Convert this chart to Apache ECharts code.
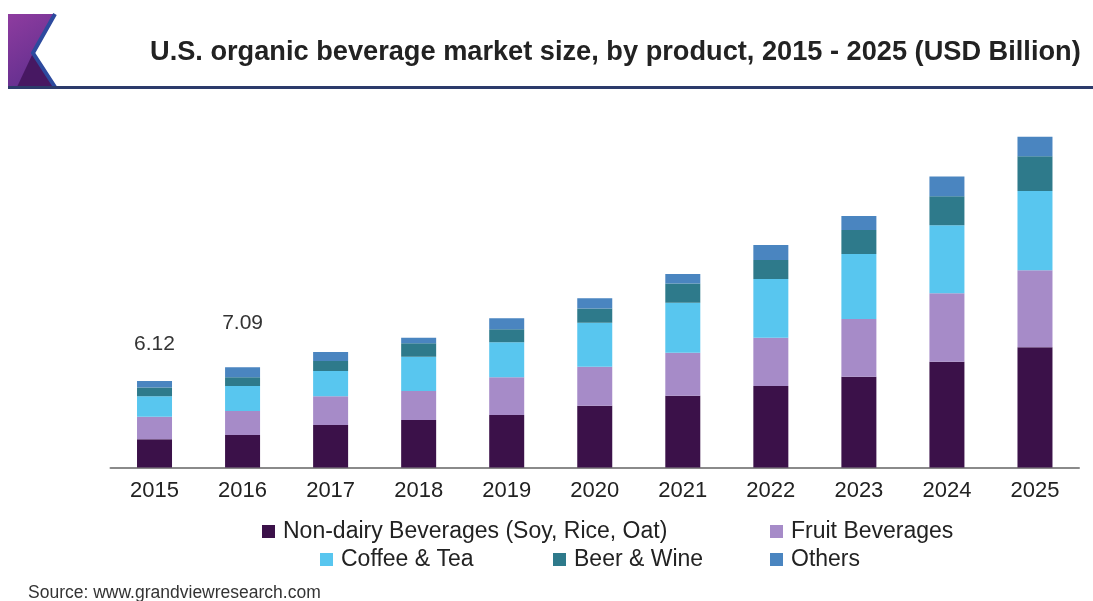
<!DOCTYPE html>
<html>
<head>
<meta charset="utf-8">
<script src="https://cdn.jsdelivr.net/npm/echarts@6/dist/echarts.min.js"></script>
<style>
  html, body { margin: 0; padding: 0; background: #fff; }
  #chart { width: 1093px; height: 601px; }
</style>
</head>
<body>
<div id="chart"></div>
<script>
// Market size by product, USD billion
const years = ['2015', '2016', '2017', '2018', '2019', '2020', '2021', '2022', '2023', '2024', '2025'];
const nonDairy = [2.00, 2.30, 3.01, 3.36, 3.72, 4.37, 5.08, 5.77, 6.43, 7.49, 8.51];
const fruit    = [1.60, 1.70, 2.03, 2.05, 2.67, 2.76, 3.04, 3.42, 4.08, 4.85, 5.45];
const coffee   = [1.45, 1.77, 1.79, 2.43, 2.48, 3.11, 3.54, 4.15, 4.60, 4.81, 5.61];
const beer     = [0.62, 0.61, 0.71, 0.95, 0.92, 1.02, 1.37, 1.34, 1.70, 2.05, 2.46];
const others   = [0.45, 0.71, 0.64, 0.40, 0.78, 0.71, 0.66, 1.06, 0.99, 1.39, 1.37];
// Totals printed above the first two columns
const totalLabels = [6.12, 7.09, null, null, null, null, null, null, null, null, null];
const totalLabelGap = [26, 34];

const seriesNames = ['Non-dairy Beverages (Soy, Rice, Oat)', 'Fruit Beverages', 'Coffee & Tea', 'Beer & Wine', 'Others'];
const seriesColors = ['#3b1149', '#a68bc8', '#58c6ef', '#2e7a8b', '#4a85c0'];
const seriesData = [nonDairy, fruit, coffee, beer, others];

const FONT = '"Liberation Sans", Arial, sans-serif';

const chart = echarts.init(document.getElementById('chart'), null, { renderer: 'canvas' });

const series = seriesData.map((arr, si) => ({
  name: seriesNames[si],
  type: 'bar',
  stack: 'total',
  barWidth: 35,
  itemStyle: { color: seriesColors[si] },
  emphasis: { disabled: true },
  data: arr.map((v, i) => {
    if (si === seriesData.length - 1 && totalLabels[i] != null) {
      return {
        value: v,
        label: {
          show: true,
          position: 'top',
          distance: totalLabelGap[i],
          formatter: () => totalLabels[i].toFixed(2),
          fontFamily: FONT,
          fontSize: 21,
          color: '#333'
        }
      };
    }
    return v;
  })
}));

// One legend block per entry so the two rows sit like the printed key
const legendSpots = [
  { left: 257, top: 515 },
  { left: 765, top: 515 },
  { left: 315, top: 543 },
  { left: 548, top: 543 },
  { left: 765, top: 543 }
];
const legends = seriesNames.map((n, i) => ({
  data: [n],
  left: legendSpots[i].left,
  top: legendSpots[i].top,
  icon: 'rect',
  itemWidth: 13,
  itemHeight: 13,
  selectedMode: false,
  textStyle: { fontFamily: FONT, fontSize: 23, color: '#222', padding: [0, 0, 0, 3] }
}));

const option = {
  animation: false,
  backgroundColor: '#ffffff',
  title: {
    text: 'U.S. organic beverage market size, by product, 2015 - 2025 (USD Billion)',
    left: 145,
    top: 34,
    textStyle: { fontFamily: FONT, fontSize: 27.2, fontWeight: 'bold', color: '#222' }
  },
  legend: legends,
  grid: { left: 110.5, right: 14, top: 114.25, bottom: 133.5, containLabel: false },
  xAxis: {
    type: 'category',
    data: years,
    axisLine: { show: true, lineStyle: { color: '#8a8a8a', width: 2 } },
    axisTick: { show: false },
    axisLabel: { fontFamily: FONT, fontSize: 22, color: '#222', margin: 12 }
  },
  yAxis: {
    type: 'value',
    min: 0,
    max: 25,
    show: false,
    splitLine: { show: false }
  },
  series: series,
  graphic: [
    // header emblem
    {
      type: 'polygon',
      shape: { points: [[8, 14], [55, 14], [33, 53], [55, 87], [8, 87]] },
      style: {
        fill: new echarts.graphic.LinearGradient(0, 0, 1, 1, [
          { offset: 0, color: '#8e3c9f' },
          { offset: 1, color: '#5b2d8c' }
        ])
      },
      silent: true
    },
    {
      type: 'polygon',
      shape: { points: [[33, 53], [55, 87], [17, 87]] },
      style: { fill: '#471862' },
      silent: true
    },
    {
      type: 'polyline',
      shape: { points: [[55, 14], [33, 53], [55, 87]] },
      style: { stroke: '#2d4a9e', lineWidth: 4, fill: null },
      silent: true
    },
    // header rule
    {
      type: 'rect',
      shape: { x: 8, y: 86, width: 1085, height: 3 },
      style: { fill: '#2c3b6b' },
      silent: true
    },
    {
      type: 'text',
      left: 28,
      top: 584,
      style: {
        text: 'Source: www.grandviewresearch.com',
        font: '17.5px ' + FONT,
        fill: '#333'
      },
      silent: true
    }
  ]
};

chart.setOption(option);
</script>
</body>
</html>
